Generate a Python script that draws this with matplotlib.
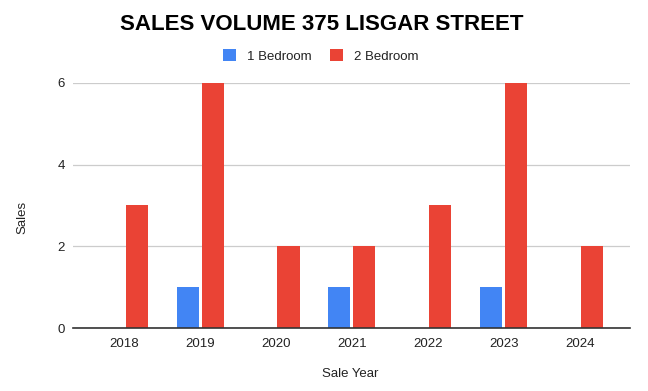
import matplotlib
matplotlib.use('Agg')
import matplotlib.pyplot as plt
import numpy as np

plt.rcParams['font.family'] = ['Liberation Sans', 'DejaVu Sans']

years = ['2018', '2019', '2020', '2021', '2022', '2023', '2024']
one_bed = [0, 1, 0, 1, 0, 1, 0]
two_bed = [3, 6, 2, 2, 3, 6, 2]

BLUE = '#4285F4'
RED = '#EA4335'

fig = plt.figure(figsize=(6.48, 3.91), dpi=100)
ax = fig.add_axes([0.113, 0.161, 0.859, 0.627])

x = np.arange(len(years))
w = 0.29
off = 0.165
ax.bar(x - off, one_bed, w, color=BLUE, label='1 Bedroom', zorder=3)
ax.bar(x + off, two_bed, w, color=RED, label='2 Bedroom', zorder=3)

ax.set_xlim(-0.67, len(years) - 1 + 0.66)
ax.set_ylim(0, 6)
ax.set_yticks([0, 2, 4, 6])
ax.set_xticks(x)
ax.set_xticklabels(years)
ax.tick_params(length=0, labelsize=9.5, colors='#222222', pad=7)
ax.tick_params(axis='y', pad=6)
ax.grid(axis='y', color='#cccccc', linewidth=0.9, zorder=0)
ax.grid(axis='x', visible=False)
for s in ['top', 'right', 'left']:
    ax.spines[s].set_visible(False)
ax.spines['bottom'].set_color('#333333')
ax.spines['bottom'].set_linewidth(1.2)
ax.spines['bottom'].set_zorder(4)

# axis titles placed in figure coords
fig.text(350 / 648, 1 - 374 / 391, 'Sale Year', ha='center', va='center',
         fontsize=9.5, color='#222222')
fig.text(22 / 648, 1 - 217 / 391, 'Sales', ha='center', va='center',
         rotation=90, fontsize=9.5, color='#222222')

fig.text(0.497, 0.938, 'SALES VOLUME 375 LISGAR STREET', ha='center', va='center',
         fontsize=16, fontweight='bold', color='black')
fig.legend(loc='center', bbox_to_anchor=(0.495, 0.857), ncol=2, frameon=False,
           fontsize=9.5, handlelength=1.0, handleheight=1.0, columnspacing=1.4,
           handletextpad=0.8, labelcolor='#222222')

fig.savefig('out.png', dpi=100)
